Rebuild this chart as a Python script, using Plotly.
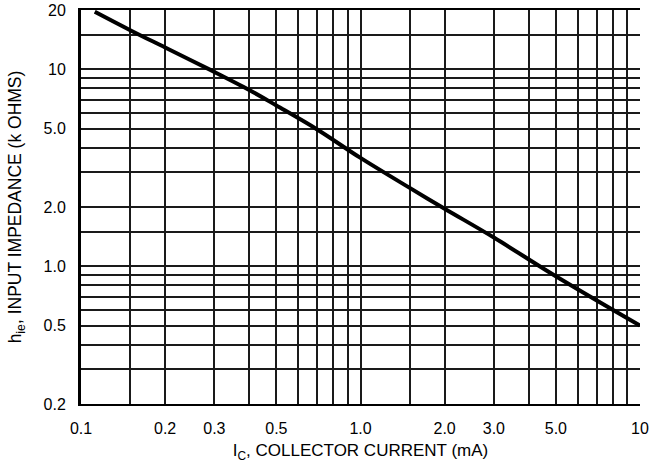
import plotly.graph_objects as go

# Curve (Ic in mA, hie in k ohms)
ic_ma = [0.112, 0.15, 0.2, 0.3, 0.4, 0.5, 0.7, 1.0, 1.5, 2.0, 3.0, 5.0, 10.0]
hie_kohm = [19.6, 15.8, 12.9, 9.7, 7.85, 6.55, 4.95, 3.55, 2.5, 1.96, 1.40, 0.89, 0.5]

# Grid positions and tick labels
x_grid = [0.1, 0.15, 0.2, 0.3, 0.4, 0.5, 0.6, 0.7, 0.8, 0.9, 1.0, 1.5, 2, 3, 4, 5, 6, 7, 8, 9, 10]
x_labels = ["0.1", "", "0.2", "0.3", "", "0.5", "", "", "", "", "1.0", "", "2.0", "3.0", "", "5.0", "", "", "", "", "10"]
y_grid = [0.2, 0.3, 0.4, 0.5, 0.6, 0.7, 0.8, 0.9, 1.0, 1.5, 2, 3, 4, 5, 6, 7, 8, 9, 10, 15, 20]
y_labels = ["0.2", "", "", "0.5", "", "", "", "", "1.0", "", "2.0", "", "", "5.0", "", "", "", "", "10", "", "20"]

FONT = "Liberation Sans, Arial, Helvetica, sans-serif"
GRID = "#1a1a1a"
YRANGE = [-0.69897, 1.30103]

fig = go.Figure()
fig.add_trace(go.Scatter(x=ic_ma, y=hie_kohm, mode="lines",
                         line=dict(color="black", width=4, shape="spline", smoothing=1.0),
                         showlegend=False, hoverinfo="skip"))

fig.update_layout(
    width=649, height=468,
    margin=dict(l=81, r=9, t=10, b=64, autoexpand=False),
    paper_bgcolor="white", plot_bgcolor="white",
    font=dict(family=FONT, color="black", size=16),
    xaxis=dict(
        type="log", range=[-1, 1], automargin=False,
        tickvals=x_grid, ticktext=x_labels,
        showgrid=True, gridcolor=GRID, gridwidth=1.5,
        showline=True, linecolor="black", linewidth=2, mirror=True,
        ticks="outside", ticklen=9, tickcolor="rgba(0,0,0,0)",
        tickfont=dict(size=16),
        title=dict(text="I<sub>C</sub>, COLLECTOR CURRENT (mA)", font=dict(size=17), standoff=8),
        zeroline=False,
    ),
    yaxis=dict(
        type="log", range=YRANGE, automargin=False,
        tickvals=y_grid, ticktext=y_labels,
        showgrid=True, gridcolor=GRID, gridwidth=1.5,
        showline=True, linecolor="black", linewidth=3, mirror=False,
        ticks="outside", ticklen=9, tickcolor="rgba(0,0,0,0)",
        tickfont=dict(size=16),
        title=dict(text="h<sub>ie</sub>, INPUT IMPEDANCE (k OHMS)", font=dict(size=17.5), standoff=18),
        zeroline=False,
    ),
    yaxis2=dict(
        type="log", range=YRANGE, overlaying="y", side="right", automargin=False,
        showline=True, linecolor="black", linewidth=1.5,
        showgrid=False, showticklabels=False, ticks="", zeroline=False,
    ),
)

fig.write_html("out.html")
